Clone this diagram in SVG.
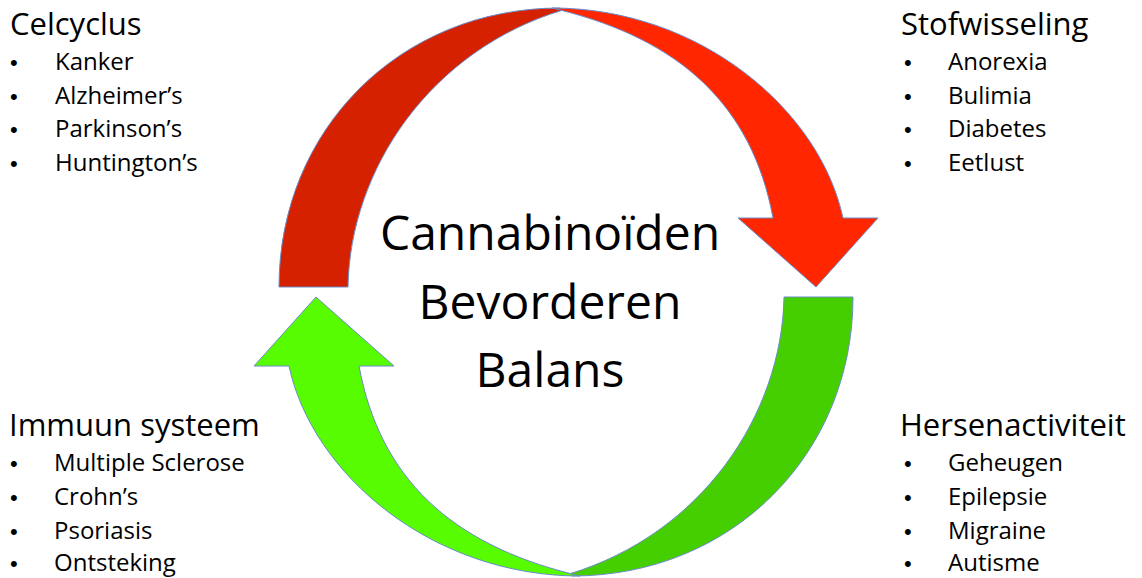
<svg xmlns="http://www.w3.org/2000/svg" width="1142" height="578" viewBox="0 0 1142 578">
  <style>
    .title { font-family: "Open Sans", "Liberation Sans", sans-serif; font-size: 31px; fill: #000; }
    .item { font-family: "Open Sans", "Liberation Sans", sans-serif; font-size: 24px; fill: #000; }
    .bullet { font-family: "Liberation Sans", sans-serif; font-size: 22px; fill: #000; }
    .center { font-family: "Open Sans", "Liberation Sans", sans-serif; font-size: 48px; fill: #000; text-anchor: middle; }
    .edge { stroke: #6a8cc8; stroke-width: 1; stroke-linejoin: round; }
    .redBack { fill: #d62100; }
    .redFront { fill: #ff2600; }
    .greenBack { fill: #46cf00; }
    .greenFront { fill: #57fc00; }
  </style>
  <defs>
    <path id="backBand" d="M 279 287 C 279 130 400 8 560 8 L 563 10 C 430 50 350 170 348 287 Z"/>
    <path id="frontBand" d="M 552 8 C 700 8 820 110 843 218 L 878 218 L 816 287 L 738 218 L 773 218 C 752 105 680 40 560 10 Z"/>
  </defs>
  <rect x="0" y="0" width="1142" height="578" fill="#ffffff"/>

  <g id="connectors">
    <g id="arrow-top">
      <use href="#backBand" class="redBack edge"/>
      <use href="#frontBand" class="redFront edge"/>
    </g>
    <g id="arrow-bottom" transform="rotate(180 566 292)">
      <use href="#backBand" class="greenBack edge"/>
      <use href="#frontBand" class="greenFront edge"/>
    </g>
  </g>

  <g id="center-label">
    <text class="center" x="550" y="250">Cannabinoïden</text>
    <text class="center" x="550" y="319">Bevorderen</text>
    <text class="center" x="550" y="387">Balans</text>
  </g>

  <g id="node-celcyclus">
    <text class="title" x="10" y="35">Celcyclus</text>
    <text class="bullet" x="10" y="70">•</text><text class="item" x="55" y="70">Kanker</text>
    <text class="bullet" x="10" y="104">•</text><text class="item" x="55" y="104">Alzheimer’s</text>
    <text class="bullet" x="10" y="137">•</text><text class="item" x="55" y="137">Parkinson’s</text>
    <text class="bullet" x="10" y="171">•</text><text class="item" x="55" y="171">Huntington’s</text>
  </g>

  <g id="node-stofwisseling">
    <text class="title" x="901" y="35">Stofwisseling</text>
    <text class="bullet" x="904" y="70">•</text><text class="item" x="948" y="70">Anorexia</text>
    <text class="bullet" x="904" y="104">•</text><text class="item" x="948" y="104">Bulimia</text>
    <text class="bullet" x="904" y="137">•</text><text class="item" x="948" y="137">Diabetes</text>
    <text class="bullet" x="904" y="171">•</text><text class="item" x="948" y="171">Eetlust</text>
  </g>

  <g id="node-immuun">
    <text class="title" x="9" y="436">Immuun systeem</text>
    <text class="bullet" x="10" y="471">•</text><text class="item" x="54" y="471">Multiple Sclerose</text>
    <text class="bullet" x="10" y="505">•</text><text class="item" x="54" y="505">Crohn’s</text>
    <text class="bullet" x="10" y="539">•</text><text class="item" x="54" y="539">Psoriasis</text>
    <text class="bullet" x="10" y="571">•</text><text class="item" x="54" y="571">Ontsteking</text>
  </g>

  <g id="node-hersenactiviteit">
    <text class="title" x="900" y="436">Hersenactiviteit</text>
    <text class="bullet" x="904" y="471">•</text><text class="item" x="948" y="471">Geheugen</text>
    <text class="bullet" x="904" y="505">•</text><text class="item" x="948" y="505">Epilepsie</text>
    <text class="bullet" x="904" y="539">•</text><text class="item" x="948" y="539">Migraine</text>
    <text class="bullet" x="904" y="571">•</text><text class="item" x="948" y="571">Autisme</text>
  </g>
</svg>
